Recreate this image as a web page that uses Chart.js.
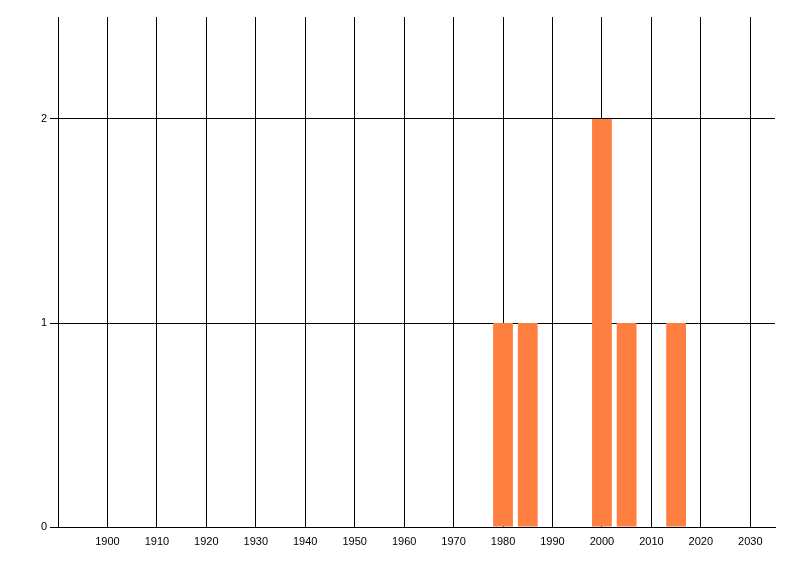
<!DOCTYPE html>
<html lang="en">
<head>
    <meta charset="UTF-8">
    <title>Counts per year</title>
    <script src="https://cdn.jsdelivr.net/npm/chart.js"></script>
    <style>
        body {
            margin: 0;
            background-color: #ffffff;
        }
        canvas {
            display: block;
        }
    </style>
</head>
<body>
    <canvas id="yearChart" width="800" height="576"></canvas>

    <script>
        // Data
        const years = [1980, 1985, 2000, 2005, 2015];
        const counts = [1, 1, 2, 1, 1];
        const xTickYears = [1890, 1900, 1910, 1920, 1930, 1940, 1950, 1960, 1970, 1980, 1990, 2000, 2010, 2020, 2030];
        const yTicks = [0, 1, 2];

        const points = years.map((y, i) => ({ x: y, y: counts[i] }));

        const ctx = document.getElementById('yearChart').getContext('2d');
        new Chart(ctx, {
            type: 'bar',
            data: {
                datasets: [{
                    data: points,
                    backgroundColor: '#ff7f40',
                    borderWidth: 0,
                    categoryPercentage: 1.0,
                    barPercentage: 0.8
                }]
            },
            options: {
                responsive: false,
                animation: false,
                layout: {
                    padding: { top: 17, right: 25, left: 0, bottom: 0 }
                },
                plugins: {
                    legend: { display: false },
                    tooltip: { enabled: false }
                },
                scales: {
                    x: {
                        type: 'linear',
                        min: 1890,
                        max: 2035,
                        offset: false,
                        grid: {
                            color: '#000000',
                            lineWidth: 1,
                            offset: false,
                            drawTicks: false
                        },
                        border: { color: '#000000', width: 1 },
                        afterBuildTicks: (scale) => {
                            scale.ticks = xTickYears.map(v => ({ value: v }));
                        },
                        afterFit: (scale) => { scale.height = 49; },
                        ticks: {
                            autoSkip: false,
                            maxRotation: 0,
                            padding: 8,
                            color: '#000000',
                            font: { family: 'Liberation Sans', size: 11 },
                            callback: (v) => v === 1890 ? '' : String(v)
                        }
                    },
                    y: {
                        min: 0,
                        max: 2.5,
                        grid: {
                            color: '#000000',
                            lineWidth: 1,
                            tickLength: 8
                        },
                        border: { color: '#000000', width: 1 },
                        afterBuildTicks: (scale) => {
                            scale.ticks = yTicks.map(v => ({ value: v }));
                        },
                        afterFit: (scale) => { scale.width = 58; },
                        ticks: {
                            padding: 3,
                            color: '#000000',
                            font: { family: 'Liberation Sans', size: 11 }
                        }
                    }
                }
            }
        });
    </script>
</body>
</html>
